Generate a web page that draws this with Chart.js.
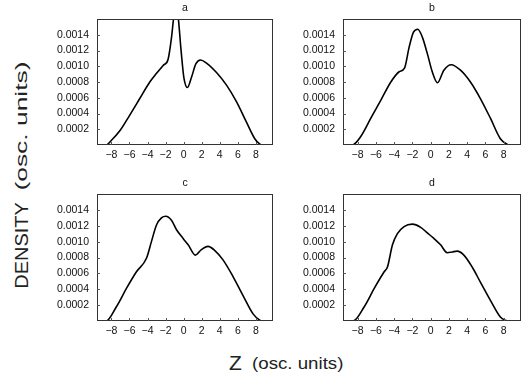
<!DOCTYPE html>
<html>
<head>
<meta charset="utf-8">
<script src="https://cdn.jsdelivr.net/npm/chart.js@4"></script>
<style>
  html, body { margin: 0; padding: 0; background: #fff; }
  body { width: 523px; height: 376px; position: relative; overflow: hidden; font-family: "Liberation Sans", Arial, sans-serif; }
  canvas { position: absolute; }
  .lbl { position: absolute; color: #222; white-space: nowrap; line-height: 1; font-weight: normal; }
</style>
</head>
<body>
<canvas id="panelA"></canvas>
<canvas id="panelB"></canvas>
<canvas id="panelC"></canvas>
<canvas id="panelD"></canvas>
<div class="lbl" id="yLab1" style="font-size:19px; left:-20px; top:236px; transform: rotate(-90deg) scaleX(1.05);">DENSITY</div>
<div class="lbl" id="yLab2" style="font-size:16px; left:-17px; top:118px; transform: rotate(-90deg) scaleX(1.65);">(osc. units)</div>
<div class="lbl" style="font-size:21px; left:229px; top:352px;">Z</div>
<div class="lbl" style="font-size:17px; left:252px; top:355px; transform-origin: left top; transform: scaleX(1.1);">(osc. units)</div>
<script>
// shared axis ticks
const xTicks = [-8, -6, -4, -2, 0, 2, 4, 6, 8];
const yTicks = [0.0002, 0.0004, 0.0006, 0.0008, 0.0010, 0.0012, 0.0014];
const titles = ['a', 'b', 'c', 'd'];

// panel a
const zA = [-9.6, -8.6, -8.0, -7.07, -5.97, -4.86, -3.75, -3.0, -2.27, -1.72, -1.35, -1.1, -0.85, -0.6, -0.3, 0.02, 0.42, 0.87, 1.35, 1.87, 2.53, 3.64, 4.75, 5.85, 6.96, 7.88, 8.44, 8.65, 9.9];
const densityA = [0, 0, 0.00006, 0.00018, 0.00038, 0.00059, 0.00080, 0.00091, 0.00101, 0.00109, 0.00136, 0.00162, 0.00178, 0.00162, 0.00122, 0.00086, 0.00073, 0.00086, 0.00103, 0.00108, 0.00104, 0.00092, 0.00076, 0.00055, 0.00029, 0.00008, 0.00001, 0, 0];

// panel b
const zB = [-9.6, -8.6, -7.64, -6.55, -5.45, -4.36, -3.45, -2.85, -2.36, -1.89, -1.4, -0.91, -0.36, 0.18, 0.75, 1.45, 2.25, 3.27, 4.36, 5.45, 6.55, 7.64, 8.36, 8.6, 9.9];
const densityB = [0, 0, 0.00011, 0.00034, 0.00057, 0.00080, 0.00093, 0.00098, 0.00124, 0.00143, 0.00147, 0.00137, 0.00116, 0.00093, 0.00079, 0.00095, 0.00102, 0.00095, 0.00080, 0.00059, 0.00034, 0.00008, 0.00001, 0, 0];

// panel c
const zC = [-9.6, -8.6, -7.45, -6.34, -5.23, -4.12, -3.57, -3.01, -2.46, -1.98, -1.35, -0.79, -0.06, 0.5, 1.3, 1.97, 2.7, 3.43, 4.36, 5.47, 6.58, 7.69, 8.43, 8.65, 9.9];
const densityC = [0, 0, 0.00018, 0.00041, 0.00062, 0.00079, 0.00100, 0.00121, 0.00130, 0.00132, 0.00127, 0.00115, 0.00104, 0.00096, 0.00083, 0.00090, 0.00094, 0.00089, 0.00077, 0.00056, 0.00032, 0.00009, 0.00001, 0, 0];

// panel d
const zD = [-9.6, -8.5, -7.27, -6.18, -5.09, -4.73, -4.18, -3.64, -2.91, -2.0, -1.09, -0.36, 0.36, 1.09, 1.82, 2.36, 2.91, 3.64, 4.55, 5.45, 6.55, 7.64, 8.18, 8.5, 9.9];
const densityD = [0, 0, 0.00018, 0.00041, 0.00062, 0.00068, 0.00096, 0.00110, 0.00119, 0.00122, 0.00118, 0.00111, 0.00104, 0.00096, 0.00086, 0.00087, 0.00088, 0.00083, 0.00068, 0.00049, 0.00026, 0.00005, 0.00001, 0, 0];

// frame boxes (left, top, right, bottom) in page pixels
const frames = [
    [97, 19, 273, 145],
    [343, 19, 521, 145],
    [97, 194, 273, 321],
    [343, 194, 521, 321]
];

const tickFont = { family: '"Liberation Sans", Arial, sans-serif', size: 10.5 };

const framePlugin = {
    id: 'framePlugin',
    afterDraw(chart) {
        const ctx = chart.ctx;
        const a = chart.chartArea;
        const xs = chart.scales.x, ys = chart.scales.y;
        ctx.save();
        ctx.strokeStyle = '#333';
        ctx.lineWidth = 1;
        ctx.strokeRect(a.left + 0.5, a.top + 0.5, a.right - a.left - 1, a.bottom - a.top - 1);
        ctx.strokeStyle = '#555';
        ctx.beginPath();
        xTicks.forEach(v => {
            const px = Math.round(xs.getPixelForValue(v)) + 0.5;
            ctx.moveTo(px, a.bottom);
            ctx.lineTo(px, a.bottom - 3);
        });
        yTicks.forEach(v => {
            const py = Math.round(ys.getPixelForValue(v)) + 0.5;
            ctx.moveTo(a.left, py);
            ctx.lineTo(a.left + 3, py);
        });
        ctx.stroke();
        ctx.fillStyle = '#111';
        ctx.font = '10.5px "Liberation Sans", Arial, sans-serif';
        ctx.textAlign = 'center';
        ctx.textBaseline = 'middle';
        ctx.fillText(chart.options.plugins.panelTitle, (a.left + a.right) / 2, a.top - 11);
        ctx.restore();
    }
};

function makePanel(id, idx, zs, dens) {
    const [l, t, r, b] = frames[idx];
    const padRight = Math.min(4, 523 - r);
    const canvas = document.getElementById(id);
    const w = (r - l) + 60 + padRight;
    const h = (b - t) + 19 + 25;
    canvas.style.left = (l - 60) + 'px';
    canvas.style.top = (t - 19) + 'px';
    canvas.style.width = w + 'px';
    canvas.style.height = h + 'px';
    canvas.width = w;
    canvas.height = h;

    new Chart(canvas.getContext('2d'), {
        type: 'line',
        data: {
            datasets: [{
                data: zs.map((z, i) => ({ x: z, y: dens[i] })),
                borderColor: '#000',
                borderWidth: 1.6,
                pointRadius: 0,
                fill: false,
                cubicInterpolationMode: 'monotone'
            }]
        },
        options: {
            responsive: false,
            animation: false,
            events: [],
            layout: { padding: { top: 19, left: 0, right: padRight, bottom: 0 } },
            plugins: { legend: { display: false }, tooltip: { enabled: false }, panelTitle: titles[idx] },
            scales: {
                x: {
                    type: 'linear',
                    min: -9.6,
                    max: 9.9,
                    afterBuildTicks: s => { s.ticks = xTicks.map(v => ({ value: v })); },
                    afterFit: s => { s.height = 25; },
                    grid: { display: false, drawTicks: false },
                    border: { display: false },
                    ticks: {
                        padding: 4,
                        color: '#111',
                        font: tickFont,
                        maxRotation: 0,
                        callback: v => (v < 0 ? '\u2212' + Math.abs(v) : String(v))
                    }
                },
                y: {
                    min: 0,
                    max: 0.0016,
                    afterBuildTicks: s => { s.ticks = yTicks.map(v => ({ value: v })); },
                    afterFit: s => { s.width = 60; },
                    grid: { display: false, drawTicks: false },
                    border: { display: false },
                    ticks: {
                        padding: 8,
                        color: '#111',
                        font: tickFont,
                        callback: v => Number(v).toFixed(4)
                    }
                }
            }
        },
        plugins: [framePlugin]
    });
}

makePanel('panelA', 0, zA, densityA);
makePanel('panelB', 1, zB, densityB);
makePanel('panelC', 2, zC, densityC);
makePanel('panelD', 3, zD, densityD);
</script>
</body>
</html>
